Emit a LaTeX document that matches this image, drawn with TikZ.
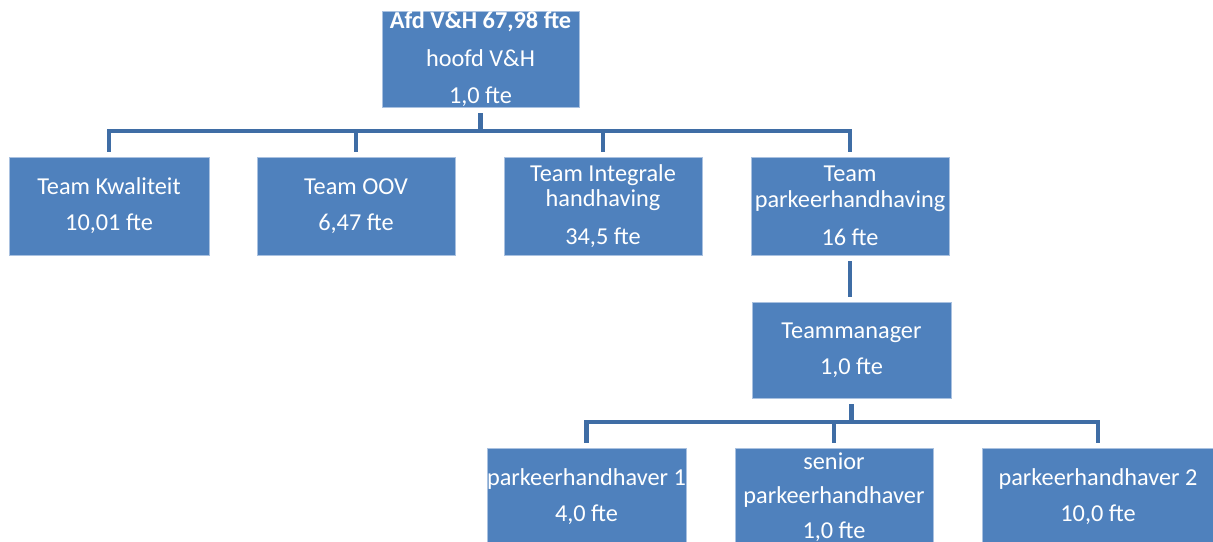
\documentclass[tikz,border=0pt]{standalone}
\usepackage{fontspec}
\setmainfont{Carlito}
\definecolor{boxfill}{HTML}{4F81BD}
\definecolor{boxline}{HTML}{A9C1E0}
\definecolor{connline}{HTML}{3F6DA5}
\begin{document}
\begin{tikzpicture}[x=1pt,y=-1pt,
  orgbox/.style={rectangle, fill=boxfill, draw=boxline, line width=0.8pt,
    inner sep=0pt, text=white, align=center,
    font=\fontsize{24.3}{25.5}\selectfont},
  conn/.style={draw=connline, line width=4.2pt, shorten <=6pt, shorten >=5pt}]
\clip (0,0) rectangle (1213,541);
\fill[white] (0,0) rectangle (1213,541);

\node[orgbox, minimum width=197pt, minimum height=96pt] (top) at (480.5,59)
  {\textbf{Afd V\&H 67,98 fte}\\[12pt]hoofd V\&H\\[11.5pt]1,0 fte};

\node[orgbox, minimum width=200pt, minimum height=98pt] (kw) at (109,206)
  {Team Kwaliteit\\[10.5pt]10,01 fte};
\node[orgbox, minimum width=198pt, minimum height=98pt] (oov) at (356,206)
  {Team OOV\\[10.5pt]6,47 fte};
\node[orgbox, minimum width=198pt, minimum height=98pt] (ih) at (603,206)
  {Team Integrale\\handhaving\\[12.5pt]34,5 fte};
\node[orgbox, minimum width=198pt, minimum height=98pt] (ph) at (850,206)
  {Team\\parkeerhandhaving\\[12.5pt]16 fte};

\node[orgbox, minimum width=199pt, minimum height=96pt] (tm) at (851.5,350)
  {Teammanager\\[10.5pt]1,0 fte};

\node[orgbox, minimum width=199pt, minimum height=98pt] (b1) at (586.5,497)
  {parkeerhandhaver 1\\[10.5pt]4,0 fte};
\node[orgbox, minimum width=198pt, minimum height=98pt] (b2) at (834,497)
  {senior\\[9pt]parkeerhandhaver\\[9pt]1,0 fte};
\node[orgbox, minimum width=232pt, minimum height=98pt] (b3) at (1098,497)
  {parkeerhandhaver 2\\[10.5pt]10,0 fte};

\coordinate (busA) at (0,131);
\coordinate (busB) at (0,422);

\foreach \c in {kw,oov,ih,ph}
  \draw[conn] (top.south) -- (top.south |- busA) -| (\c.north);
\draw[conn] (ph.south) -- (ph.south |- tm.north);
\foreach \c in {b1,b2,b3}
  \draw[conn] (tm.south) -- (tm.south |- busB) -| (\c.north);
\end{tikzpicture}
\end{document}
